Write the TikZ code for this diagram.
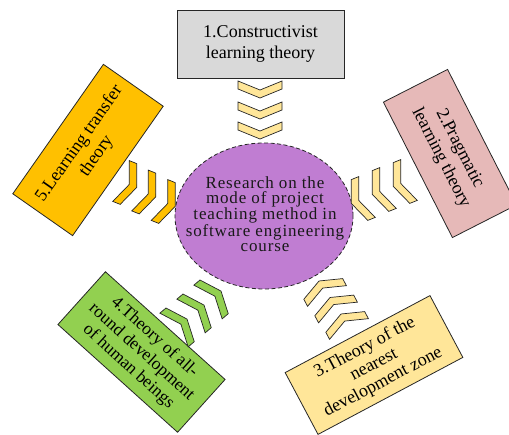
\documentclass[tikz,border=0pt]{standalone}
\usepackage{fontspec}
\setmainfont{Liberation Serif}
\usetikzlibrary{shapes.geometric}
\definecolor{boxgray}{HTML}{D9D9D9}
\definecolor{boxpink}{HTML}{E6B9B8}
\definecolor{boxorange}{HTML}{FFC000}
\definecolor{boxgreen}{HTML}{92D050}
\definecolor{boxyellow}{HTML}{FFE699}
\definecolor{hubpurple}{HTML}{C07DD2}
\newcommand\drawchev[4]{%
  \draw[chevstyle, fill=#4, shift={(#1,#2)}, rotate=#3]
    (-22,0) -- (-22,-8) -- (0,-17) -- (22,-8) -- (22,0) -- (0,-9) -- cycle;}
\begin{document}
\begin{tikzpicture}[x=1pt,y=1pt,
  boxstyle/.style={draw=black!85, line width=0.8pt, rectangle, inner sep=0pt,
    align=center, font=\fontsize{18}{21}\selectfont},
  chevstyle/.style={draw=black!85, line width=0.7pt, line join=miter}]
\useasboundingbox (0,0) rectangle (509,434);
\clip (0,0) rectangle (509,434);
% centre
\node[ellipse, draw=black!85, line width=0.8pt, dash pattern=on 4pt off 2.5pt,
  fill=hubpurple, minimum width=178pt, minimum height=146pt, inner sep=0pt]
  (hub) at (264,218) {};
\node[align=center, text=black!90,
  font=\fontsize{17}{15}\selectfont\addfontfeature{LetterSpace=5}]
  (hubtext) at (265,220)
  {Research on the\\mode of project\\teaching method in\\software engineering\\course};
% boxes
\node[boxstyle, fill=boxgray, minimum width=167pt, minimum height=68pt]
  (t1) at (260.5,390) {1.Constructivist\\learning theory};
\node[boxstyle, fill=boxpink, minimum width=152pt, minimum height=72pt, rotate=-63]
  (t2) at (450,280.5) {2.Pragmatic\\learning theory};
\node[boxstyle, fill=boxyellow, minimum width=164pt, minimum height=70pt, rotate=28,
  font=\fontsize{18}{19.5}\selectfont]
  (t3) at (374,69) {3.Theory of the\\nearest\\development zone};
\node[boxstyle, fill=boxgreen, minimum width=161pt, minimum height=71pt, rotate=-42,
  font=\fontsize{17.5}{19.5}\selectfont]
  (t4) at (141.5,82) {4.Theory of all-\\round development\\of human beings};
\node[boxstyle, fill=boxorange, minimum width=158pt, minimum height=73pt, rotate=55]
  (t5) at (88,284) {5.Learning transfer\\theory};
% chevrons
\drawchev{260}{353}{0}{boxyellow}
\drawchev{260}{332}{0}{boxyellow}
\drawchev{260}{312}{0}{boxyellow}
\drawchev{409}{254}{-68}{boxyellow}
\drawchev{388}{246}{-68}{boxyellow}
\drawchev{367}{237}{-68}{boxyellow}
\drawchev{121}{253}{68}{boxorange}
\drawchev{140}{243.5}{68}{boxorange}
\drawchev{159.5}{234}{68}{boxorange}
\drawchev{208}{132}{130}{boxgreen}
\drawchev{191}{118}{130}{boxgreen}
\drawchev{174}{104}{130}{boxgreen}
\drawchev{327}{138}{208}{boxyellow}
\drawchev{338}{121.5}{208}{boxyellow}
\drawchev{349}{105}{208}{boxyellow}
\end{tikzpicture}
\end{document}
